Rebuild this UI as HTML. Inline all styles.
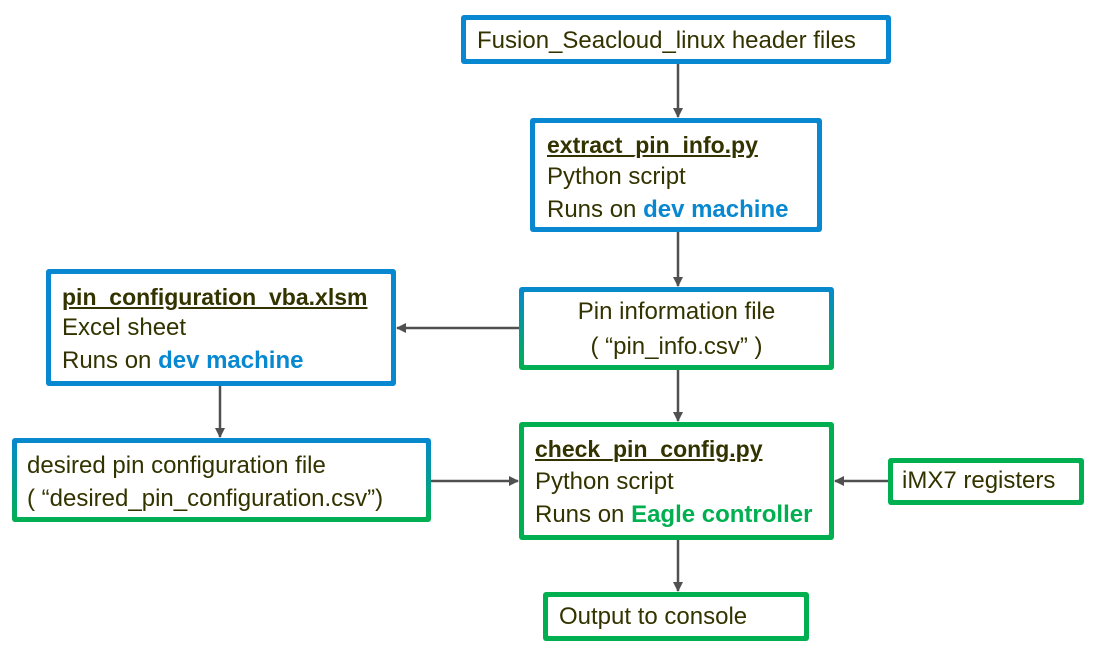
<!DOCTYPE html>
<html><head><meta charset="utf-8"><style>
body{margin:0;width:1098px;height:654px;background:#fff;position:relative;overflow:hidden;font-family:"Liberation Sans",sans-serif;color:#333300}
.b{position:absolute;box-sizing:border-box;border-radius:3px;padding:5px}
.b .in{background:#fff;width:100%;height:100%;border-radius:1px}
.blue{background:#0788d0}.green{background:#00b050}
.grad{background:linear-gradient(#0788d0,#00b050)}
.t{position:absolute;font-size:24px;white-space:nowrap;line-height:28px}
.u{font-weight:bold;text-decoration:underline;font-size:23px}
.bl{color:#0788d0;font-weight:bold}.gr{color:#00b050;font-weight:bold}
svg{position:absolute;left:0;top:0}
</style></head><body>
<div class="b blue" style="left:461px;top:15px;width:430px;height:49px"><div class="in"></div></div>
<div class="b blue" style="left:530px;top:118px;width:292px;height:114px"><div class="in"></div></div>
<div class="b blue" style="left:46px;top:269px;width:350px;height:117px"><div class="in"></div></div>
<div class="b grad" style="left:519px;top:287px;width:315px;height:83px"><div class="in"></div></div>
<div class="b grad" style="left:12px;top:438px;width:419px;height:84px"><div class="in"></div></div>
<div class="b green" style="left:519px;top:422px;width:315px;height:118px"><div class="in"></div></div>
<div class="b green" style="left:888px;top:458px;width:196px;height:47px"><div class="in"></div></div>
<div class="b green" style="left:543px;top:592px;width:266px;height:49px"><div class="in"></div></div>

<div class="t" style="left:477px;top:27px">Fusion_Seacloud_linux header files</div>
<div class="t u" style="left:547px;top:131px">extract_pin_info.py</div>
<div class="t" style="left:547px;top:163px">Python script</div>
<div class="t" style="left:547px;top:196px">Runs on <span class="bl">dev machine</span></div>
<div class="t u" style="left:62px;top:283px">pin_configuration_vba.xlsm</div>
<div class="t" style="left:62px;top:314px">Excel sheet</div>
<div class="t" style="left:62px;top:347px">Runs on <span class="bl">dev machine</span></div>
<div class="t" style="left:519px;width:315px;text-align:center;top:298px">Pin information file</div>
<div class="t" style="left:519px;width:315px;text-align:center;top:333px">( “pin_info.csv” )</div>
<div class="t" style="left:27px;top:452px">desired pin configuration file</div>
<div class="t" style="left:27px;top:485px">( “desired_pin_configuration.csv”)</div>
<div class="t u" style="left:535px;top:435px">check_pin_config.py</div>
<div class="t" style="left:535px;top:468px">Python script</div>
<div class="t" style="left:535px;top:501px">Runs on <span class="gr">Eagle controller</span></div>
<div class="t" style="left:902px;top:467px">iMX7 registers</div>
<div class="t" style="left:559px;top:603px">Output to console</div>

<svg width="1098" height="654">
<defs><marker id="a" markerWidth="10" markerHeight="10" refX="9" refY="5" orient="auto" markerUnits="userSpaceOnUse"><path d="M0,0L10,5L0,10z" fill="#505050"/></marker></defs>
<g stroke="#505050" stroke-width="2.5" marker-end="url(#a)">
<line x1="678" y1="64" x2="678" y2="117"/>
<line x1="678" y1="232" x2="678" y2="286"/>
<line x1="519" y1="328" x2="397" y2="328"/>
<line x1="220" y1="386" x2="220" y2="437"/>
<line x1="431" y1="481" x2="518" y2="481"/>
<line x1="888" y1="481" x2="835" y2="481"/>
<line x1="678" y1="370" x2="678" y2="421"/>
<line x1="678" y1="540" x2="678" y2="591"/>
</g></svg>
</body></html>
